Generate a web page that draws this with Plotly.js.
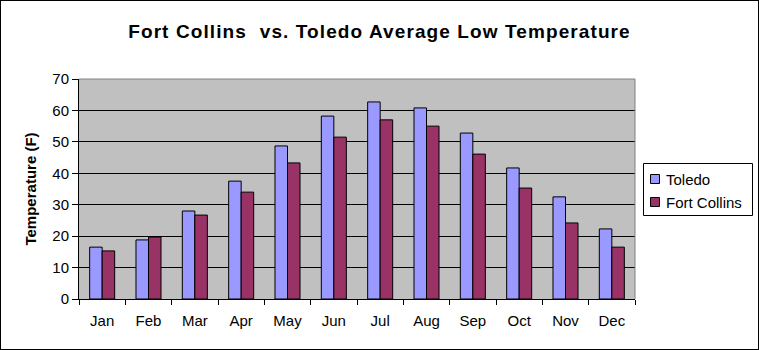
<!DOCTYPE html>
<html>
<head>
<meta charset="utf-8">
<script src="https://cdn.plot.ly/plotly-3.0.1.min.js"></script>
<style>
html,body{margin:0;padding:0;background:#fff;}
#wrap{position:relative;width:759px;height:350px;}
#chart{width:759px;height:350px;}
#frame{position:absolute;left:0;top:0;width:757px;height:348px;border:1px solid #000;pointer-events:none;}
.gtitle{letter-spacing:1.1px;}
</style>
</head>
<body>
<div id="wrap"><div id="chart"></div><div id="frame"></div></div>
<script>
const months = ["Jan","Feb","Mar","Apr","May","Jun","Jul","Aug","Sep","Oct","Nov","Dec"];
const toledo = [16.5, 18.8, 28.0, 37.5, 48.7, 58.2, 62.7, 60.8, 52.8, 41.7, 32.5, 22.3];
const fortCollins = [15.3, 19.7, 26.7, 34.0, 43.3, 51.5, 57.0, 55.0, 46.1, 35.3, 24.2, 16.5];
const yTicks = [0,10,20,30,40,50,60,70];
const seriesNames = ["Toledo", "Fort Collins"];
const seriesColors = ["#9999FF", "#993366"];

const font = "Liberation Sans, Arial, sans-serif";
const W = 759, H = 350, L = 79, R = 124, T = 79, B = 51;
const pw = W - L - R, ph = H - T - B;
const px = v => (v - L) / pw;          // pixel x -> paper
const py = v => (H - B - v) / ph;      // pixel y -> paper

const traces = [
  {type:"bar", name:seriesNames[0], x:months, y:toledo,
   marker:{color:seriesColors[0], line:{color:"#000", width:1}}},
  {type:"bar", name:seriesNames[1], x:months, y:fortCollins,
   marker:{color:seriesColors[1], line:{color:"#000", width:1}}}
];

// custom legend (box, swatches, labels)
const shapes = [
  {type:"line", xref:"paper", yref:"paper", x0:0, x1:1, y0:1, y1:1, line:{color:"#808080", width:1}},
  {type:"line", xref:"paper", yref:"paper", x0:1, x1:1, y0:0, y1:1, line:{color:"#808080", width:1}},
  {type:"rect", xref:"paper", yref:"paper", x0:px(643.5), x1:px(752.5), y0:py(215.5), y1:py(163.5),
   line:{color:"#000", width:1}, fillcolor:"#fff"}
];
const annotations = [];
const itemY = [179, 202];
seriesNames.forEach((n, i) => {
  shapes.push({type:"rect", xref:"paper", yref:"paper",
    x0:px(650.5), x1:px(659.5), y0:py(itemY[i] + 4.5), y1:py(itemY[i] - 4.5),
    line:{color:"#000", width:1}, fillcolor:seriesColors[i]});
  annotations.push({xref:"paper", yref:"paper", x:px(664), y:py(itemY[i]),
    xanchor:"left", yanchor:"middle", showarrow:false, text:n,
    font:{family:font, size:15, color:"#000"}});
});

const layout = {
  width:W, height:H,
  margin:{l:L, r:R, t:T, b:B},
  paper_bgcolor:"#fff", plot_bgcolor:"#C0C0C0",
  font:{family:font, size:15, color:"#000"},
  title:{text:"<b>Fort Collins\u00A0 vs. Toledo Average Low Temperature</b>",
         font:{family:font, size:19, color:"#000"},
         x:0.5, xref:"container", y:1-31/350, yref:"container", yanchor:"middle"},
  barmode:"group", bargap:0.46, bargroupgap:0,
  xaxis:{type:"category", showline:true, linecolor:"#000", linewidth:1,
         ticks:"outside", ticklen:5, tickcolor:"#000", tickson:"boundaries",
         ticklabelstandoff:8,
         showgrid:false, tickfont:{size:15}, fixedrange:true},
  yaxis:{range:[0,70], tickvals:yTicks, showline:true, linecolor:"#000", linewidth:1,
         ticks:"outside", ticklen:6, tickcolor:"#000", showgrid:true, gridcolor:"#000", gridwidth:1,
         zeroline:false, tickfont:{size:15},
         title:{text:"<b>Temperature (F)</b>", font:{size:15}, standoff:12}},
  shapes:shapes,
  annotations:annotations,
  showlegend:false
};
Plotly.newPlot("chart", traces, layout, {displayModeBar:false, staticPlot:true});
</script>
</body>
</html>
